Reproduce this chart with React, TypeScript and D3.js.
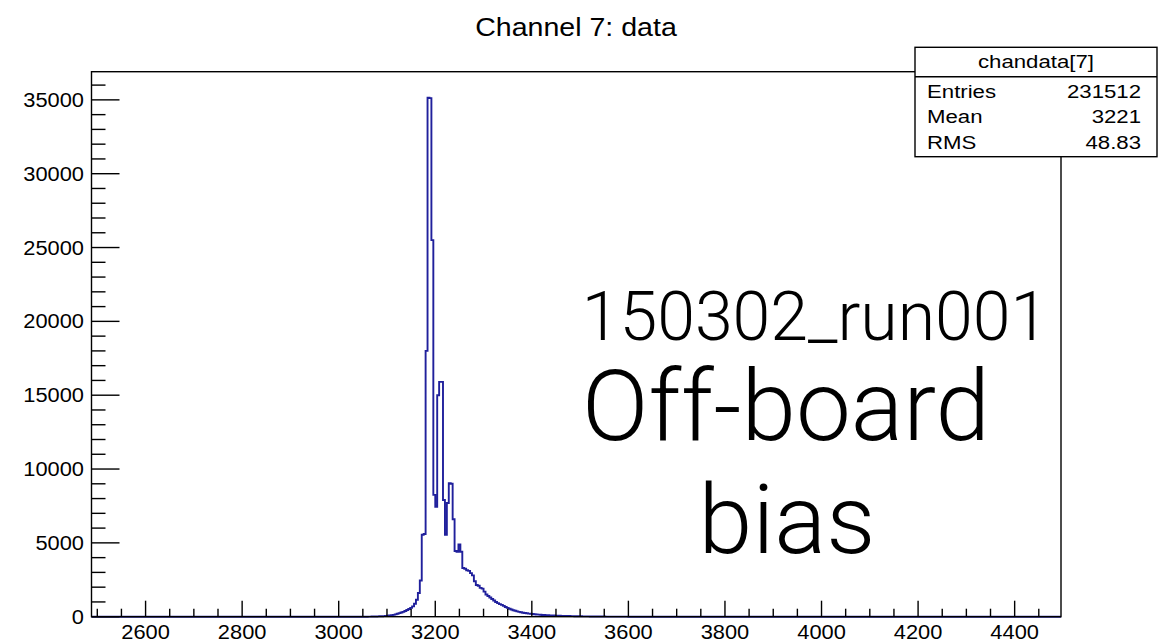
import React, { useEffect } from "react";
import * as d3 from "d3";

// ---------- data ----------
const histTitle = "Channel 7: data";
const statsTitle = "chandata[7]";
const statsLabels = ["Entries", "Mean", "RMS"];
const statsValues = ["231512", "3221", "48.83"];
const noteLines = ["150302_run001", "Off-board", "bias"];

const xRange = [2488, 4496];
const xMajorTicks = [2600, 2800, 3000, 3200, 3400, 3600, 3800, 4000, 4200, 4400];
const yMajorTicks = [0, 5000, 10000, 15000, 20000, 25000, 30000, 35000];

const binStart = 3060;
const binWidth = 4;
const counts = [
  5, 7, 9, 12, 15, 20, 26, 33, 42, 52,
  64, 80, 100, 125, 160, 200, 240, 280, 330, 390,
  450, 520, 600, 700, 880, 1150, 1600, 2450, 5550, 5600,
  18000, 35150, 35120, 25500, 8250, 7450, 15000, 15900, 15900, 7900,
  5550, 7700, 9040, 9000, 6600, 4450, 4400, 4900, 4400, 3300,
  3250, 3150, 3100, 2950, 2800, 2400, 2150, 2100, 1950, 1900,
  1700, 1500, 1400, 1300, 1200, 1100, 1000, 920, 850, 800,
  730, 660, 600, 540, 490, 440, 400, 360, 330, 300,
  270, 250, 230, 210, 195, 180, 165, 150, 140, 130,
  120, 112, 104, 96, 90, 84, 78, 72, 67, 62,
  58, 54, 50, 46, 43, 40, 37, 34, 31, 29,
  27, 25, 23, 21, 19, 17, 16, 14, 13, 12,
  11, 10, 9, 8, 7, 6, 5, 5, 4, 4,
  3, 3, 2, 2, 2, 1,
];

// ---------- layout ----------
const W = 1171;
const H = 643;
const frame = { left: 91.5, right: 1061, top: 71.7, bottom: 616.7 };
const smallFont = "'Liberation Sans', Arial, Helvetica, sans-serif";
const bigFont = "Roboto, 'Open Sans', Lato, sans-serif";
const lineColor = "#20209c";

export default function App() {
  useEffect(() => {
    document.body.style.margin = "0";
  }, []);

  const yMax = 1.05 * (d3.max(counts) as number);
  const x = d3.scaleLinear().domain(xRange).range([frame.left, frame.right]);
  const y = d3.scaleLinear().domain([0, yMax]).range([frame.bottom, frame.top]);

  // step outline
  const pts: [number, number][] = [];
  pts.push([xRange[0], 0]);
  pts.push([binStart, 0]);
  counts.forEach((c, i) => pts.push([binStart + i * binWidth, c]));
  const lastEdge = binStart + counts.length * binWidth;
  pts.push([lastEdge, 0]);
  pts.push([xRange[1], 0]);
  const line = d3
    .line<[number, number]>()
    .x((d) => x(d[0]))
    .y((d) => y(d[1]))
    .curve(d3.curveStepAfter);

  const xMinor = d3.range(2500, xRange[1], 50).filter((v) => v % 200 !== 0);
  const yMinor = d3.range(1000, yMax, 1000).filter((v) => v % 5000 !== 0);

  const xMajLen = 16;
  const xMinLen = 8;
  const yMajLen = 28;
  const yMinLen = 14;

  const axisFs = 19.5;
  const axisSx = 1.12;
  const statsFs = 18.5;
  const statsSx = 1.2;

  const box = { left: 915, right: 1157, top: 47.3, bottom: 156.7, sep: 76.7 };

  return (
    <svg width={W} height={H} style={{ display: "block", background: "#fff" }}>
      <rect x={0} y={0} width={W} height={H} fill="#fff" />
      {/* title */}
      <g transform={`translate(576,36) scale(1.12,1)`}>
        <text textAnchor="middle" fontFamily={smallFont} fontSize={25.5} fill="#000">
          {histTitle}
        </text>
      </g>

      {/* histogram */}
      <path d={line(pts) || ""} fill="none" stroke={lineColor} strokeWidth={1.9} />

      {/* frame */}
      <rect
        x={frame.left}
        y={frame.top}
        width={frame.right - frame.left}
        height={frame.bottom - frame.top}
        fill="none"
        stroke="#000"
        strokeWidth={1.4}
      />

      {/* x ticks */}
      {xMajorTicks.map((t) => (
        <line key={"xM" + t} x1={x(t)} x2={x(t)} y1={frame.bottom} y2={frame.bottom - xMajLen} stroke="#000" strokeWidth={1.4} />
      ))}
      {xMinor.map((t) => (
        <line key={"xm" + t} x1={x(t)} x2={x(t)} y1={frame.bottom} y2={frame.bottom - xMinLen} stroke="#000" strokeWidth={1.4} />
      ))}
      {xMajorTicks.map((t) => (
        <g key={"xl" + t} transform={`translate(${x(t)},${frame.bottom + 22}) scale(${axisSx},1)`}>
          <text textAnchor="middle" fontFamily={smallFont} fontSize={axisFs} fill="#000">
            {t}
          </text>
        </g>
      ))}

      {/* y ticks */}
      {yMajorTicks.map((t) => (
        <line key={"yM" + t} x1={frame.left} x2={frame.left + yMajLen} y1={y(t)} y2={y(t)} stroke="#000" strokeWidth={1.4} />
      ))}
      {yMinor.map((t) => (
        <line key={"ym" + t} x1={frame.left} x2={frame.left + yMinLen} y1={y(t)} y2={y(t)} stroke="#000" strokeWidth={1.4} />
      ))}
      {yMajorTicks.map((t) => (
        <g key={"yl" + t} transform={`translate(84,${y(t) + 7}) scale(${axisSx},1)`}>
          <text textAnchor="end" fontFamily={smallFont} fontSize={axisFs} fill="#000">
            {t}
          </text>
        </g>
      ))}

      {/* stats box */}
      <rect x={box.left} y={box.top} width={box.right - box.left} height={box.bottom - box.top} fill="#fff" stroke="#000" strokeWidth={1.4} />
      <line x1={box.left} x2={box.right} y1={box.sep} y2={box.sep} stroke="#000" strokeWidth={1.4} />
      <g transform={`translate(${(box.left + box.right) / 2},68) scale(${statsSx},1)`}>
        <text textAnchor="middle" fontFamily={smallFont} fontSize={statsFs} fill="#000">
          {statsTitle}
        </text>
      </g>
      {statsLabels.map((s, i) => (
        <g key={"sl" + s} transform={`translate(927,${97.5 + i * 25.5}) scale(${statsSx},1)`}>
          <text textAnchor="start" fontFamily={smallFont} fontSize={statsFs} fill="#000">
            {s}
          </text>
        </g>
      ))}
      {statsValues.map((s, i) => (
        <g key={"sv" + s} transform={`translate(1141,${97.5 + i * 25.5}) scale(${statsSx},1)`}>
          <text textAnchor="end" fontFamily={smallFont} fontSize={statsFs} fill="#000">
            {s}
          </text>
        </g>
      ))}

      {/* notes */}
      <text x={815} y={340} textAnchor="middle" fontFamily={bigFont} fontWeight={300} fontSize={68} fill="#000">
        {noteLines[0]}
      </text>
      <text x={786} y={440} textAnchor="middle" fontFamily={bigFont} fontWeight={300} fontSize={98} fill="#000">
        {noteLines[1]}
      </text>
      <text x={787} y={553} textAnchor="middle" fontFamily={bigFont} fontWeight={300} fontSize={97} fill="#000">
        {noteLines[2]}
      </text>
    </svg>
  );
}
